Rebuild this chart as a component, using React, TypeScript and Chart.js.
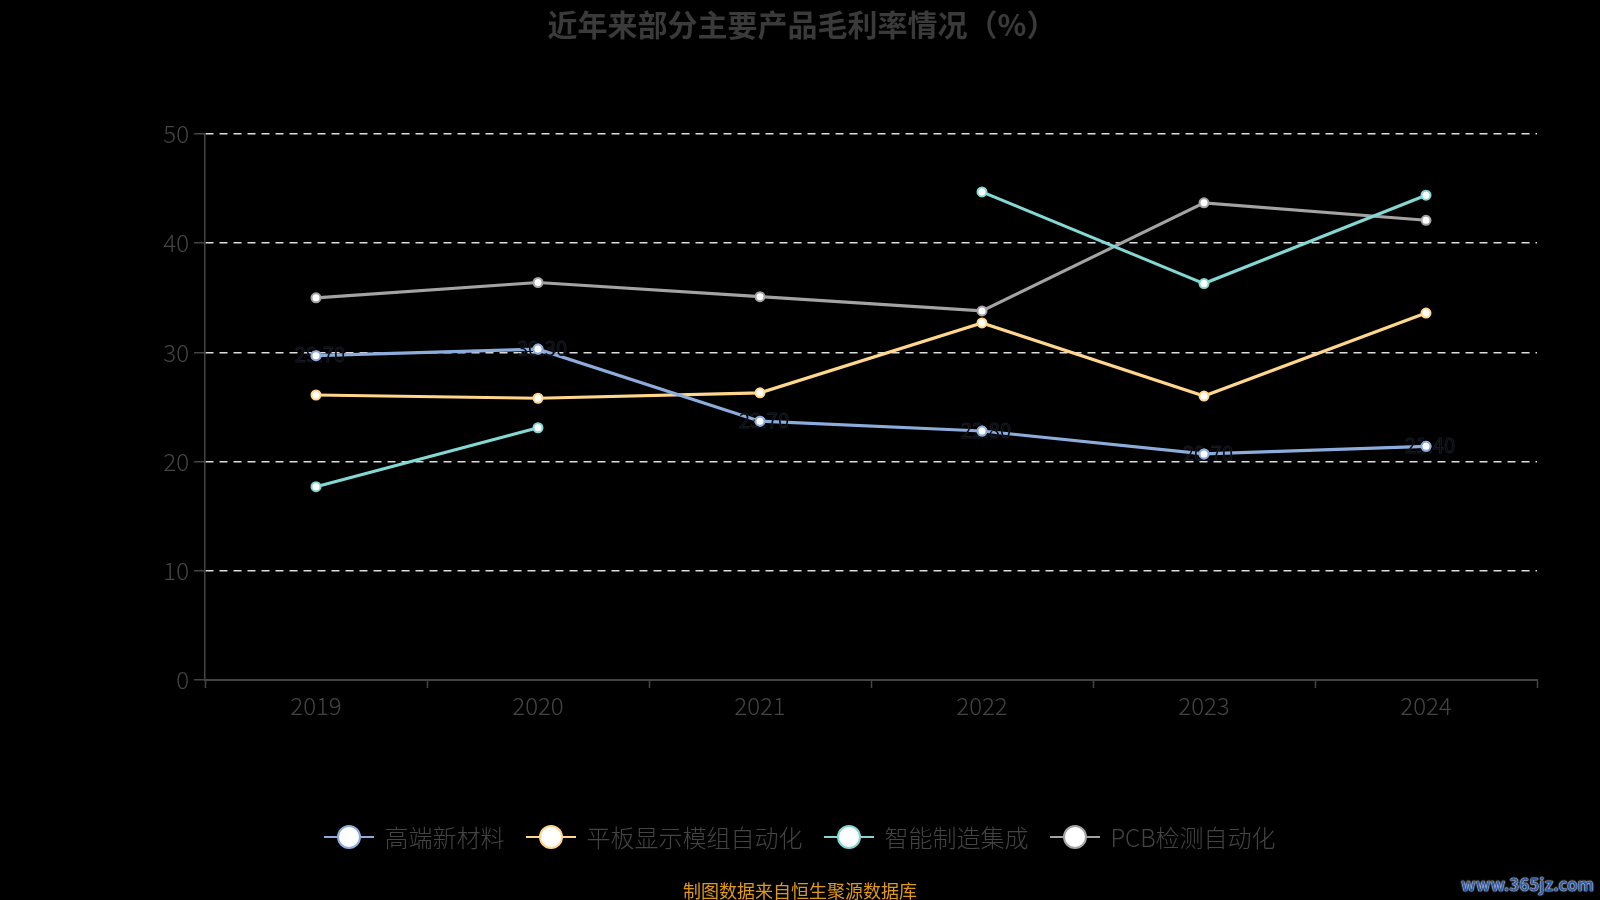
import React, { useEffect, useRef } from "react";
import { Chart, registerables } from "chart.js";

Chart.register(...registerables);

const categories = ["2019", "2020", "2021", "2022", "2023", "2024"];
const seriesNames = ["高端新材料", "平板显示模组自动化", "智能制造集成", "PCB检测自动化"];
const highEndMaterials = [29.7, 30.3, 23.7, 22.8, 20.7, 21.4];
const flatPanel = [26.1, 25.8, 26.3, 32.7, 26.0, 33.6];
const smartManufacturing: (number | null)[] = [17.7, 23.1, null, 44.7, 36.3, 44.4];
const pcbInspection = [35.0, 36.4, 35.1, 33.8, 43.7, 42.1];
const yTicks = [0, 10, 20, 30, 40, 50];
const seriesColors = ["#8cacdc", "#ffd68c", "#82d8d4", "#a3a3a3"];

const titleText = "近年来部分主要产品毛利率情况（%）";
const footerText = "制图数据来自恒生聚源数据库";
const watermarkText = "www.365jz.com";

const FONT = "'Noto Sans CJK SC', 'Noto Sans', sans-serif";

const labelPlugin = {
  id: "blueLabels",
  afterDatasetsDraw(chart: any) {
    const meta = chart.getDatasetMeta(0);
    const ctx = chart.ctx;
    ctx.save();
    ctx.font = `20px ${FONT}`;
    ctx.textAlign = "center";
    ctx.textBaseline = "middle";
    ctx.lineWidth = 1;
    ctx.strokeStyle = "rgba(120,150,200,0.18)";
    ctx.fillStyle = "#000";
    meta.data.forEach((pt: any, i: number) => {
      const t = highEndMaterials[i].toFixed(2);
      ctx.fillText(t, pt.x + 4, pt.y - 1);
      ctx.strokeText(t, pt.x + 4, pt.y - 1);
    });
    ctx.restore();
    meta.data.forEach((pt: any) => pt.draw(ctx, chart.chartArea));
  },
};

export default function App() {
  const ref = useRef<HTMLCanvasElement | null>(null);

  useEffect(() => {
    if (!ref.current) return;
    const data = [highEndMaterials, flatPanel, smartManufacturing, pcbInspection];
    const chart = new Chart(ref.current, {
      type: "line",
      data: {
        labels: categories,
        datasets: data.map((d, i) => ({
          label: seriesNames[i],
          data: d,
          borderColor: seriesColors[i],
          backgroundColor: "#ffffff",
          pointBackgroundColor: "#ffffff",
          pointBorderColor: seriesColors[i],
          pointBorderWidth: 2,
          pointRadius: 4.5,
          borderWidth: 3.2,
          spanGaps: false,
          tension: 0,
        })),
      },
      options: {
        animation: false,
        responsive: false,
        maintainAspectRatio: false,
        layout: { padding: { top: 134, right: 63, left: 0, bottom: 0 } },
        plugins: {
          legend: { display: false },
          title: { display: false },
          tooltip: { enabled: false },
        },
        scales: {
          x: {
            type: "category",
            offset: true,
            grid: {
              display: true,
              offset: true,
              drawOnChartArea: false,
              drawTicks: true,
              tickLength: 8,
              tickColor: "#444444",
              tickWidth: 1.5,
            },
            border: { display: true, color: "#444444", width: 2 },
            ticks: {
              color: "#444444",
              font: { family: FONT, size: 24, weight: "300" },
              padding: 3,
            },
            afterFit: (s: any) => {
              s.height = 900 - 680;
            },
          },
          y: {
            min: 0,
            max: 50,
            afterBuildTicks: (s: any) => {
              s.ticks = yTicks.map((v) => ({ value: v }));
            },
            grid: {
              color: (c: any) => (c.tick && c.tick.value === 0 ? "rgba(0,0,0,0)" : "#dddddd"),
              lineWidth: 1.5,
              drawTicks: true,
              tickLength: 11,
              tickColor: "#444444",
              tickBorderDash: [],
              tickWidth: 1.5,
            },
            border: { display: true, color: "#444444", width: 1.5, dash: [8, 6] },
            ticks: {
              color: "#444444",
              font: { family: FONT, size: 24, weight: "300" },
              padding: 5,
            },
            afterFit: (s: any) => {
              s.width = 205;
            },
          },
        },
      },
      plugins: [labelPlugin],
    } as any);
    return () => chart.destroy();
  }, []);

  return (
    <div
      style={{
        position: "absolute",
        left: 0,
        top: 0,
        width: 1600,
        height: 900,
        background: "#000",
        overflow: "hidden",
        fontFamily: FONT,
      }}
    >
      <canvas ref={ref} width={1600} height={900} style={{ position: "absolute", left: 0, top: 0, width: 1600, height: 900 }} />
      <div
        style={{
          position: "absolute",
          left: 0,
          width: 1604,
          top: 3,
          textAlign: "center",
          color: "#3a3a3a",
          fontWeight: 700,
          fontSize: 30,
          lineHeight: "40px",
        }}
      >
        {titleText}
      </div>
      <div
        style={{
          position: "absolute",
          left: 0,
          width: 1600,
          top: 820,
          height: 34,
          display: "flex",
          justifyContent: "center",
          alignItems: "center",
          gap: 22,
        }}
      >
        {seriesNames.map((n, i) => (
          <div key={n} style={{ display: "flex", alignItems: "center" }}>
            <div style={{ position: "relative", width: 50, height: 26 }}>
              <div style={{ position: "absolute", left: 0, right: 0, top: 12, height: 2, background: seriesColors[i] }} />
              <div
                style={{
                  position: "absolute",
                  left: 13,
                  top: 1,
                  width: 20,
                  height: 20,
                  borderRadius: "50%",
                  background: "#fff",
                  border: `2px solid ${seriesColors[i]}`,
                }}
              />
            </div>
            <span style={{ marginLeft: 10, color: "#444444", fontSize: 24, fontWeight: 300, lineHeight: "34px" }}>{n}</span>
          </div>
        ))}
      </div>
      <div
        style={{
          position: "absolute",
          left: 0,
          width: 1600,
          top: 877,
          textAlign: "center",
          color: "#e09a12",
          fontSize: 18,
          lineHeight: "26px",
        }}
      >
        {footerText}
      </div>
      <div
        style={{
          position: "absolute",
          right: 6,
          top: 872,
          color: "#2f5fae",
          fontWeight: 700,
          fontSize: 17,
          lineHeight: "24px",
          textShadow: "0 0 2px #fff, 0 0 1px #fff",
        }}
      >
        {watermarkText}
      </div>
    </div>
  );
}
